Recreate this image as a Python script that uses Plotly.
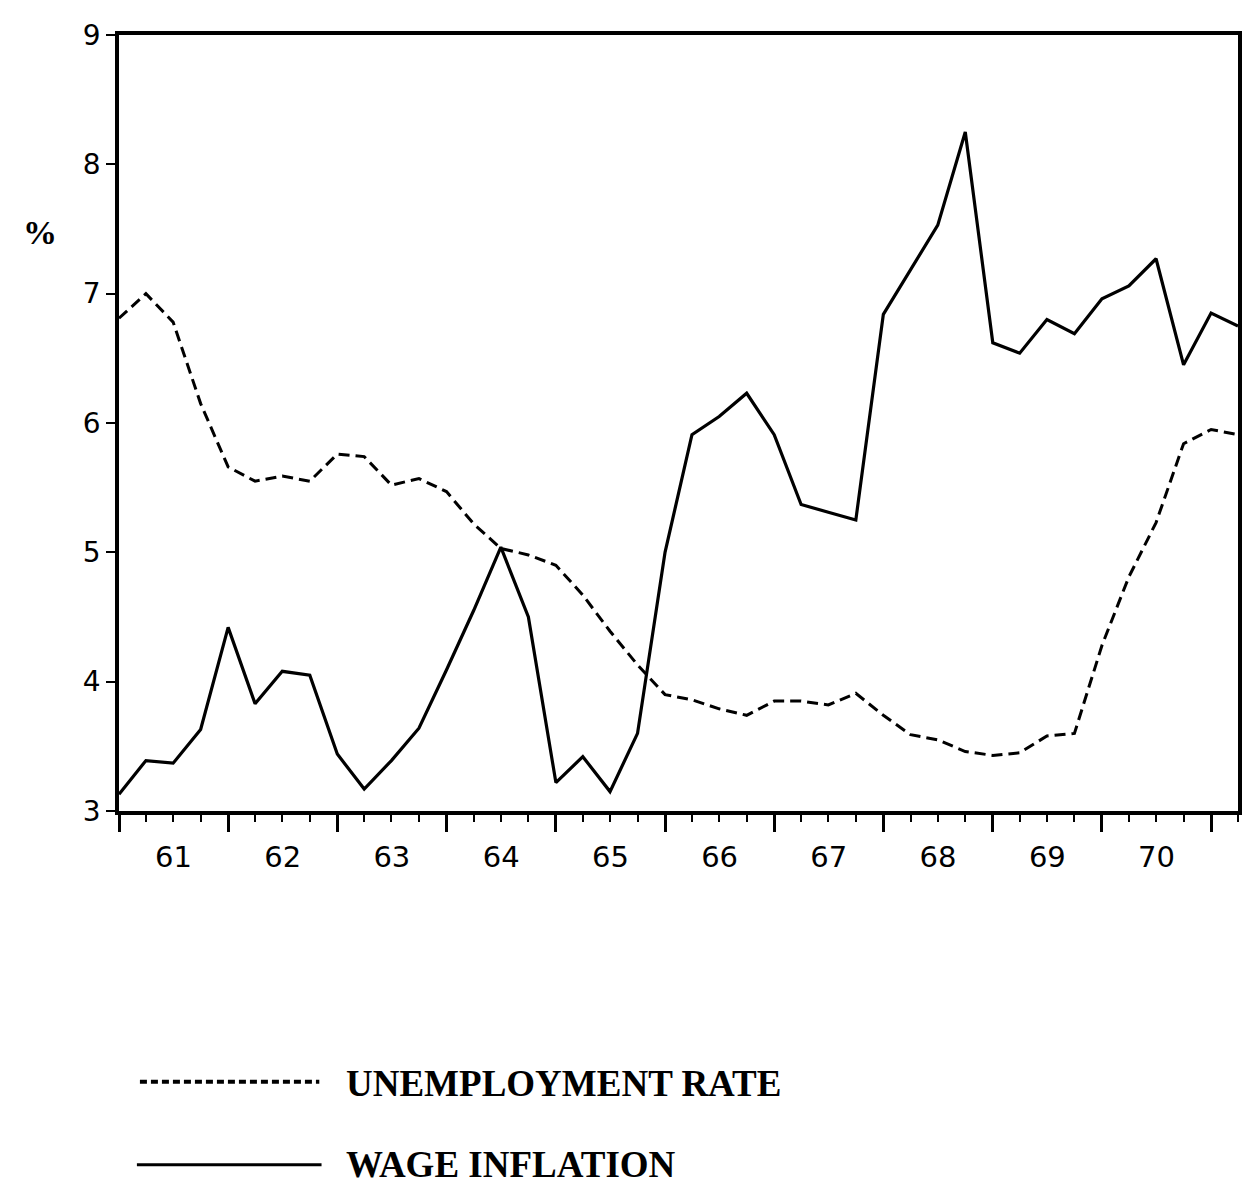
import plotly.graph_objects as go
import pandas as pd

# Quarterly observations, 1961 Q1 .. 1971 Q2
quarters = pd.date_range("1961-01-01", periods=42, freq="QS")

unemployment = [6.81, 7.00, 6.78, 6.15, 5.66, 5.55, 5.59, 5.55, 5.76, 5.74,
                5.52, 5.57, 5.47, 5.22, 5.03, 4.98, 4.90, 4.67, 4.39, 4.13,
                3.90, 3.86, 3.79, 3.74, 3.85, 3.85, 3.82, 3.91, 3.74, 3.59,
                3.55, 3.46, 3.43, 3.45, 3.58, 3.60, 4.28, 4.81, 5.23, 5.84,
                5.95, 5.91]

wage_inflation = [3.13, 3.39, 3.37, 3.63, 4.42, 3.83, 4.08, 4.05, 3.44, 3.17,
                  3.39, 3.64, 4.09, 4.55, 5.04, 4.50, 3.22, 3.42, 3.15, 3.60,
                  5.00, 5.91, 6.05, 6.23, 5.91, 5.37, 5.31, 5.25, 6.84, 7.18,
                  7.53, 8.25, 6.62, 6.54, 6.80, 6.69, 6.96, 7.06, 7.27, 6.45,
                  6.85, 6.75]

y_ticks = [3, 4, 5, 6, 7, 8, 9]
series_names = ["UNEMPLOYMENT RATE", "WAGE INFLATION"]
y_label = "%"

fig = go.Figure()
fig.add_trace(go.Scatter(
    x=quarters, y=unemployment, mode="lines", name=series_names[0],
    line=dict(color="black", width=3, dash="11px,6px"), showlegend=False))
fig.add_trace(go.Scatter(
    x=quarters, y=wage_inflation, mode="lines", name=series_names[1],
    line=dict(color="black", width=3.2), showlegend=False))

fig.update_layout(
    width=1245, height=1176,
    margin=dict(l=111, r=11, t=24, b=373),
    paper_bgcolor="white", plot_bgcolor="white",
    xaxis=dict(
        type="date", range=["1961-01-01", "1971-04-01"],
        tick0="1961-01-01", dtick="M12", tickformat="%y",
        ticklabelmode="period",
        ticks="outside", ticklen=17, tickwidth=2.5, tickcolor="black",
        ticklabelstandoff=0,
        minor=dict(dtick="M3", tick0="1961-01-01", ticks="outside",
                   ticklen=7, tickwidth=2, tickcolor="black", showgrid=False),
        showline=True, linewidth=3.5, linecolor="black", mirror=True,
        showgrid=False, zeroline=False,
        tickfont=dict(family="DejaVu Sans", size=29, color="black"),
    ),
    yaxis=dict(
        range=[3, 9], tickvals=y_ticks,
        ticks="outside", ticklen=9, tickwidth=2, tickcolor="black",
        showline=True, linewidth=3.5, linecolor="black", mirror=True,
        showgrid=False, zeroline=False,
        tickfont=dict(family="DejaVu Sans", size=28, color="black"),
    ),
    shapes=[
        dict(type="line", xref="paper", yref="paper",
             x0=0.0187, x1=0.179, y0=-0.349, y1=-0.349,
             line=dict(color="black", width=4, dash="7px,4px")),
        dict(type="line", xref="paper", yref="paper",
             x0=0.016, x1=0.181, y0=-0.456, y1=-0.456,
             line=dict(color="black", width=3)),
    ],
    annotations=[
        dict(text="<b>" + series_names[0] + "</b>", xref="paper", yref="paper",
             x=0.201, y=-0.351, xanchor="left", yanchor="middle",
             showarrow=False,
             font=dict(family="Liberation Serif", size=37, color="black")),
        dict(text="<b>" + series_names[1] + "</b>", xref="paper", yref="paper",
             x=0.201, y=-0.456, xanchor="left", yanchor="middle",
             showarrow=False,
             font=dict(family="Liberation Serif", size=37, color="black")),
        dict(text="<b>" + y_label + "</b>", xref="paper", yref="paper",
             x=-0.0703, y=0.745, xanchor="center", yanchor="middle",
             showarrow=False,
             font=dict(family="Liberation Serif", size=34, color="black")),
    ],
)

fig.write_html("out.html")
